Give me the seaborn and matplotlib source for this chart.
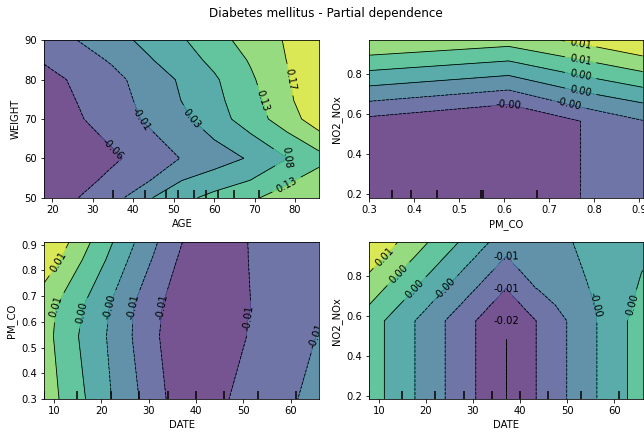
import numpy as np
import matplotlib
matplotlib.use("Agg")
import matplotlib.pyplot as plt
import seaborn as sns

# Grille des 4 paires de variables + dépendance partielle
# (lignes = variable en y, colonnes = variable en x)
AGE_GRID = [18, 26, 35, 44, 52, 60, 69, 78, 86]
WEIGHT_GRID = [50, 54.3, 60, 70, 74.7, 80, 85, 90]
PD_AGE_WEIGHT = [
    [-0.0881, -0.0580, -0.0292, 0.0311, 0.0673, 0.0942, 0.1193, 0.1459, 0.1673],
    [-0.1023, -0.0749, -0.0429, -0.0114, 0.0353, 0.0572, 0.0819, 0.1189, 0.1518],
    [-0.0977, -0.0840, -0.0639, -0.0347, -0.0091, 0.0129, 0.0398, 0.0796, 0.1097],
    [-0.0886, -0.0625, -0.0333, -0.0036, 0.0243, 0.0590, 0.1043, 0.1491, 0.1993],
    [-0.0808, -0.0561, -0.0283, 0.0028, 0.0357, 0.0682, 0.1097, 0.1609, 0.2130],
    [-0.0726, -0.0493, -0.0228, 0.0092, 0.0412, 0.0741, 0.1193, 0.1669, 0.2176],
    [-0.0520, -0.0310, -0.0054, 0.0311, 0.0604, 0.0915, 0.1303, 0.1728, 0.2107],
    [-0.0379, -0.0114, 0.0179, 0.0481, 0.0755, 0.1088, 0.1440, 0.1760, 0.2062],
]

PM_CO_GRID = [0.3, 0.61, 0.77, 0.908]
NO2_GRID_A = [0.183, 0.563, 0.646, 0.965]
PD_PMCO_NO2 = [
    [-0.0042, -0.005875, -0.0035, -0.00125],
    [-0.00425, -0.006, -0.0035, -0.001125],
    [-0.001525, -0.0035, -0.000525, 0.00125],
    [0.008925, 0.00755, 0.00955, 0.0115],
]

DATE_GRID_A = [8, 11, 16, 21, 26, 31, 36, 41, 46, 51, 56, 61, 66]
PM_CO_GRID_B = [0.3, 0.545, 0.66, 0.909]
PD_DATE_PMCO = [
    [0.00948, 0.00709, 0.00309, -0.0011, -0.00493, -0.00889, -0.0128, -0.0146, -0.01132, -0.00965, -0.0083, -0.00664, -0.00515],
    [0.00867, 0.00606, 0.00183, -0.00191, -0.0061, -0.01006, -0.0137, -0.0155, -0.01415, -0.01078, -0.00943, -0.00785, -0.00628],
    [0.00885, 0.00655, 0.00268, -0.00137, -0.00587, -0.00979, -0.01303, -0.0146, -0.01505, -0.01114, -0.00988, -0.00875, -0.0074],
    [0.016, 0.01375, 0.00862, 0.0039, -0.00101, -0.00569, -0.01028, -0.01348, -0.01415, -0.01096, -0.00965, -0.00898, -0.00853],
]

DATE_GRID_B = [8, 11.2, 17.7, 24.1, 30.6, 37, 43.4, 49.9, 56.3, 62.8, 66]
NO2_GRID_B = [0.183, 0.574, 0.653, 0.731, 0.809, 0.888, 0.966]
PD_DATE_NO2 = [
    [0.00245, 0.0004, -0.0037, -0.0078, -0.0119, -0.016, -0.0119, -0.0078, -0.0037, 0.0004, 0.00245],
    [0.00245, 0.0004, -0.0037, -0.0078, -0.0119, -0.016, -0.0119, -0.0078, -0.0037, 0.0004, 0.00245],
    [0.00446, 0.00241, -0.00169, -0.00579, -0.00989, -0.01399, -0.00985, -0.00657, -0.00350, -0.00022, 0.00163],
    [0.00643, 0.00438, 0.00028, -0.00382, -0.00792, -0.01202, -0.00792, -0.00596, -0.00296, -0.00042, 0.00097],
    [0.00844, 0.00639, 0.00229, -0.00181, -0.00591, -0.01001, -0.00608, -0.00534, -0.00251, -0.00063, 0.00052],
    [0.01045, 0.00840, 0.00430, 0.00020, -0.00391, -0.00801, -0.00538, -0.00473, -0.00210, -0.00083, -0.00001],
    [0.0127, 0.01036, 0.00626, 0.00216, -0.00194, -0.00604, -0.00514, -0.00432, -0.00128, -0.00083, -0.00022],
]

# déciles (rug en bas de chaque axe)
AGE_DECILES = [35, 43, 48, 51, 55, 58, 61, 65, 71]
PM_CO_DECILES = [0.3, 0.351, 0.393, 0.451, 0.549, 0.553, 0.672]
DATE_DECILES = [8, 15, 22, 28, 34, 40, 46, 53, 61]

TITLE = "Diabetes mellitus - Partial dependence"

# Genel ayarlar
sns.set_style("ticks", {"axes.edgecolor": "black", "text.color": "black",
                        "axes.labelcolor": "black", "xtick.color": "black",
                        "ytick.color": "black"})
plt.rcParams["font.family"] = "DejaVu Sans"
plt.rcParams["font.size"] = 10
cmap = sns.color_palette("viridis", as_cmap=True)

fig = plt.figure(figsize=(644 / 72, 437 / 72), dpi=72)

panels = [
    (AGE_GRID, WEIGHT_GRID, PD_AGE_WEIGHT, AGE_DECILES, "AGE", "WEIGHT",
     [0.0688, 0.5476, 0.4270, 0.3602]),
    (PM_CO_GRID, NO2_GRID_A, PD_PMCO_NO2, PM_CO_DECILES, "PM_CO", "NO2_NOx",
     [0.5734, 0.5476, 0.4245, 0.3602]),
    (DATE_GRID_A, PM_CO_GRID_B, PD_DATE_PMCO, DATE_DECILES, "DATE", "PM_CO",
     [0.0688, 0.0865, 0.4270, 0.3588]),
    (DATE_GRID_B, NO2_GRID_B, PD_DATE_NO2, DATE_DECILES, "DATE", "NO2_NOx",
     [0.5734, 0.0865, 0.4245, 0.3588]),
]

for xs, ys, pd_vals, deciles, xlab, ylab, rect in panels:
    ax = fig.add_axes(rect)
    XX, YY = np.meshgrid(xs, ys)
    Z = np.array(pd_vals)
    levels = np.linspace(Z.min(), Z.max(), 8)
    CS = ax.contour(XX, YY, Z, levels=levels, linewidths=0.8, colors="k")
    ax.contourf(XX, YY, Z, levels=levels, vmin=levels[0], vmax=levels[-1],
                cmap=cmap, alpha=0.75)
    ax.clabel(CS, fmt="%2.2f", colors="k", fontsize=10, inline=True)
    ax.vlines(deciles, 0, 0.05, transform=ax.get_xaxis_transform(), color="k")
    ax.set_xlim(xs[0], xs[-1])
    ax.set_ylim(ys[0], ys[-1])
    ax.set_xlabel(xlab)
    ax.set_ylabel(ylab)

fig.suptitle(TITLE, x=0.506, y=0.962, va="baseline", fontsize=12)
fig.savefig("out.png", dpi=72)
